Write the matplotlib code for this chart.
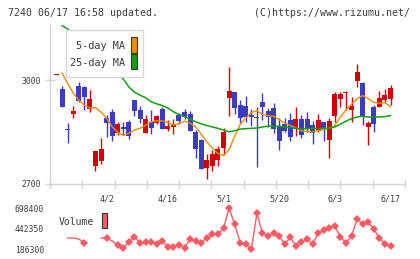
import matplotlib
matplotlib.use("Agg")
import matplotlib.pyplot as plt
from matplotlib.patches import Rectangle
import numpy as np

# ---------------- data ----------------
opens  = [3015, 2974, 2859, 2903, 2983, 2981, 2917, 2751, 2766, 2890,
          2906, 2847, 2864, 2878, 2942, 2913, 2847, 2878, 2875, 2917,
          2858, 2864, 2900, 2906, 2903, 2849, 2826, 2744, 2750, 2768,
          2803, 2948, 2965, 2928, 2924, 2898, 2894, 2937, 2910, 2920,
          2864, 2874, 2884, 2858, 2886, 2886, 2869, 2856, 2878, 2827,
          2895, 2944, 2963, 2913, 2998, 2992, 2864, 2923, 2922, 2942,
          2944]
closes = [3018, 2922, 2855, 2911, 2939, 2952, 2945, 2794, 2800, 2876,
          2839, 2872, 2859, 2838, 2911, 2887, 2887, 2861, 2897, 2858,
          2867, 2870, 2882, 2893, 2853, 2800, 2742, 2768, 2785, 2800,
          2849, 2968, 2920, 2891, 2893, 2892, 2891, 2922, 2893, 2857,
          2824, 2853, 2835, 2886, 2840, 2858, 2847, 2884, 2858, 2881,
          2959, 2959, 2966, 2924, 3024, 2893, 2876, 2872, 2949, 2956,
          2978]
highs  = [3019, 2984, 2876, 2925, 2994, 2984, 2970, 2795, 2833, 2898,
          2916, 2878, 2877, 2885, 2943, 2925, 2898, 2913, 2899, 2921,
          2884, 2886, 2905, 2917, 2910, 2855, 2830, 2785, 2797, 2808,
          2861, 3039, 2966, 2942, 2954, 2915, 2922, 2963, 2918, 2934,
          2889, 2891, 2905, 2922, 2898, 2908, 2881, 2901, 2879, 2890,
          2966, 2966, 2969, 2951, 3047, 2995, 2882, 2927, 2969, 2974,
          2985]
lows   = [3015, 2922, 2818, 2890, 2937, 2913, 2908, 2737, 2758, 2834,
          2824, 2842, 2840, 2830, 2895, 2876, 2846, 2843, 2872, 2858,
          2853, 2843, 2874, 2888, 2852, 2773, 2741, 2712, 2736, 2750,
          2782, 2895, 2902, 2876, 2879, 2867, 2748, 2884, 2864, 2847,
          2797, 2848, 2823, 2837, 2832, 2848, 2814, 2848, 2824, 2774,
          2879, 2922, 2913, 2879, 2981, 2869, 2813, 2850, 2922, 2937,
          2927]

ma5 = [np.nan, 3020, 2991, 2962, 2942, 2927, 2919, 2920, 2907, 2890,
       2864, 2849, 2839, 2846, 2855, 2860, 2869, 2879, 2882, 2882,
       2877, 2869, 2874, 2881, 2875, 2864, 2843, 2821, 2803, 2787,
       2781, 2798, 2837, 2872, 2890, 2906, 2911, 2900, 2897, 2895,
       2885, 2875, 2868, 2862, 2853, 2850, 2850, 2853, 2856, 2861,
       2868, 2893, 2913, 2930, 2946, 2955, 2946, 2935, 2933, 2934,
       2923]
ma25 = [np.nan, 3158, 3148, 3135, 3122, 3107, 3093, 3078, 3062, 3046,
        3030, 3016, 3003, 2980, 2965, 2956, 2949, 2937, 2931, 2926,
        2919, 2908, 2900, 2894, 2887, 2879, 2873, 2868, 2864, 2860,
        2855, 2850, 2853, 2858, 2859, 2860, 2861, 2864, 2866, 2866,
        2866, 2864, 2862, 2860, 2858, 2859, 2860, 2860, 2860, 2860,
        2864, 2872, 2881, 2888, 2893, 2895, 2893, 2893, 2893, 2894,
        2897]

volume = [np.nan, np.nan, 327500, 327500, 315000, 268700, np.nan, np.nan, 327500, 323700,
          290000, 240000, 198800, 281200, 343700, 261200, 273700, 273700, 252500, 290000,
          218800, 218800, 240000, 206300, 311200, 290000, 268700, 331200, 377400, 377400,
          448600, 698400, 498600, 268700, 248800, 186300, 635900, 386200, 352400, 386200,
          352400, 248800, 336200, 227500, 273700, 315000, 248800, 386200, 427400, 448600,
          481100, 336200, 268700, 352400, 561000, 502300, 523500, 439900, 323700, 252500,
          227500]
# points whose diamond marker is not visible in the reference
vol_no_marker = [2, 3, 4, 8, 10]

date_labels = ["4/2", "4/16", "5/1", "5/20", "6/3", "6/17"]
date_idx = [9, 20, 30, 40, 50, 60]
price_ticks = [2700, 3000]
vol_ticks = [186300, 442350, 698400]

# ---------------- styling ----------------
W, H = 420, 259
def fx(x): return x / W
def fy(y): return 1 - y / H

RED = "#d40000"
BLUE = "#3c3cc0"
ORANGE = "#f08c00"
GREEN = "#10a010"
VOLC = "#ff5a64"
GRID = "#d4d4d4"
TXT = "#3a3a3a"
MONO = ["DejaVu Sans Mono"]

fig = plt.figure(figsize=(W / 100, H / 100), dpi=100)
fig.patch.set_facecolor("white")

n = len(opens)
x = np.arange(n)
xlim = (-1.168, 62.6)

# main axes: pixel box x 50..405, y 25..183.5
ax = fig.add_axes([fx(50), fy(183.5), fx(405) - fx(50), fy(25) - fy(183.5)])
ax.set_xlim(*xlim)
ax.set_ylim(2700, 3159.7)

o = np.array(opens, float); c = np.array(closes, float)
h = np.array(highs, float); l = np.array(lows, float)
up = c >= o
cols = np.where(up, RED, BLUE)
ax.vlines(x, l, h, colors=cols, linewidth=1.0, zorder=2)
bottoms = np.minimum(o, c)
heights = np.maximum(np.abs(c - o), 3.0)
ax.bar(x, heights, bottom=bottoms, width=0.9, color=cols, linewidth=0, zorder=3)

ax.plot(x, ma5, color=ORANGE, lw=1.0, zorder=4)
ax.plot(x, ma25, color=GREEN, lw=1.1, zorder=4)

for s in ["top", "right"]:
    ax.spines[s].set_visible(False)
for s in ["left", "bottom"]:
    ax.spines[s].set_color(GRID)
    ax.spines[s].set_linewidth(1.0)

ax.set_yticks(price_ticks)
ax.set_yticklabels([str(v) for v in price_ticks], fontsize=5.8, family=MONO, color=TXT)
ax.tick_params(axis="y", direction="inout", length=7, width=1, color=GRID, pad=3)

ax.set_xticks(np.linspace(xlim[0], xlim[1], 12))
ax.set_xticklabels([])
ax.tick_params(axis="x", which="major", direction="inout", length=6, width=1, color=GRID)
ax.set_xticks(date_idx, minor=True)
ax.set_xticklabels(date_labels, minor=True, fontsize=6, family=MONO, color=TXT)
ax.tick_params(axis="x", which="minor", length=0, pad=8)

# legend box (main)
fig.patches.append(Rectangle((fx(65.7), fy(77)), fx(143.3) - fx(65.7), fy(30) - fy(77),
                             transform=fig.transFigure, facecolor="white",
                             edgecolor="#d8d8d8", linewidth=1.0, zorder=10))
for label, col, yc, (y0, y1) in [("5-day MA", ORANGE, 46, (37.3, 52.7)),
                                 ("25-day MA", GREEN, 62.5, (54, 69.3))]:
    fig.text(fx(125.5), fy(yc), label, ha="right", va="center", fontsize=7.3,
             family=MONO, color=TXT, zorder=11)
    fig.patches.append(Rectangle((fx(131.3), fy(y1)), fx(137.3) - fx(131.3), fy(y0) - fy(y1),
                                 transform=fig.transFigure, facecolor=col,
                                 edgecolor="#333333", linewidth=0.8, zorder=11))

# header
fig.text(fx(8), fy(13.5), "7240 06/17 16:58 updated.", ha="left", va="center",
         fontsize=7.1, family=MONO, color=TXT)
fig.text(fx(409.5), fy(13.5), "(C)https://www.rizumu.net/", ha="right", va="center",
         fontsize=7.1, family=MONO, color=TXT)

# volume axes: pixel box x 50..405, y 205..252
vax = fig.add_axes([fx(50), fy(252), fx(405) - fx(50), fy(205) - fy(252)])
vax.set_xlim(*xlim)
vax.set_ylim(152587, 739617)
vol = np.array(volume, float)
marker_idx = [i for i in range(n) if not np.isnan(vol[i]) and i not in vol_no_marker]
vax.plot(x, vol, color=VOLC, lw=1.0, marker="D", markersize=4.2,
         markeredgewidth=0, markerfacecolor=VOLC, markevery=marker_idx)
for s in vax.spines.values():
    s.set_visible(False)
vax.set_xticks([])
vax.set_yticks(vol_ticks)
vax.set_yticklabels([str(v) for v in vol_ticks], fontsize=5.8, family=MONO, color=TXT)
vax.tick_params(axis="y", length=0, pad=4.3)
vax.patch.set_alpha(0)

fig.text(fx(59), fy(222.3), "Volume", ha="left", va="center", fontsize=7.0,
         family=MONO, color=TXT)
fig.patches.append(Rectangle((fx(101.7), fy(228.3)), fx(107.3) - fx(101.7), fy(213.3) - fy(228.3),
                             transform=fig.transFigure, facecolor=VOLC,
                             edgecolor="#333333", linewidth=0.8, zorder=11))

fig.savefig("out.png", dpi=100)
